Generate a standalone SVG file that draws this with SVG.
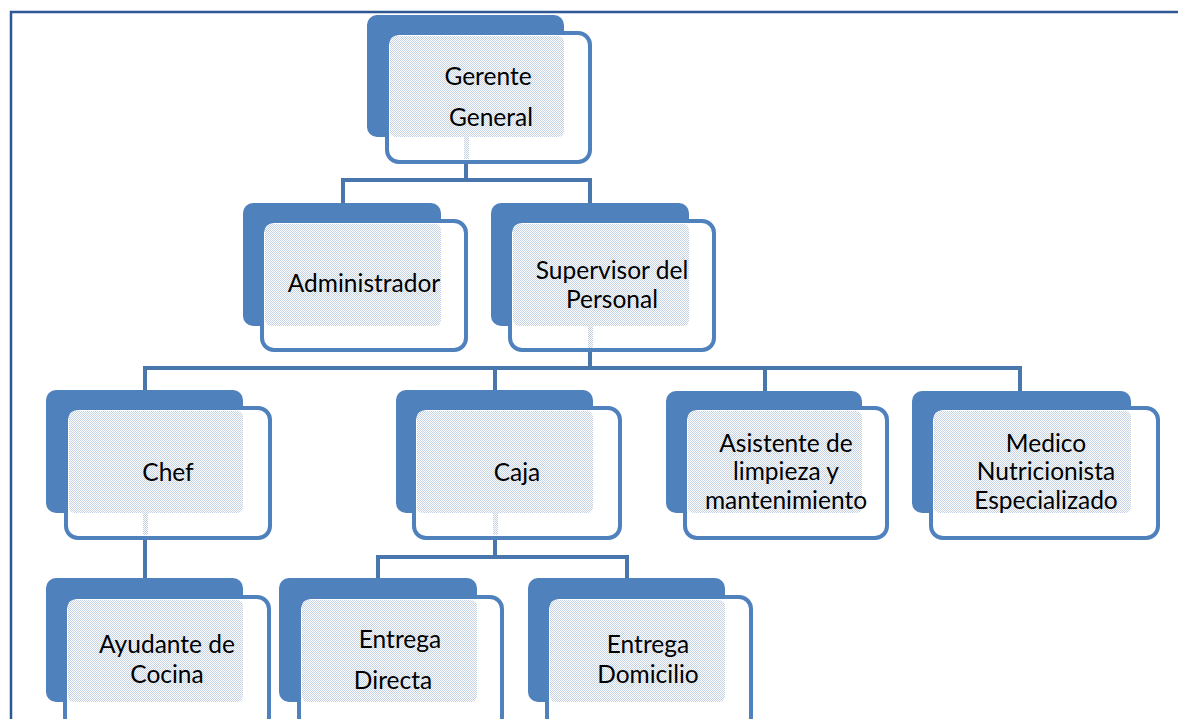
<svg xmlns="http://www.w3.org/2000/svg" width="1178" height="719" viewBox="0 0 1178 719">
<defs>
<pattern id="dots" width="2" height="2" patternUnits="userSpaceOnUse">
<rect width="2" height="2" fill="#ffffff"/>
<rect x="0" y="0" width="1" height="1" fill="#c4d1e3"/>
<rect x="1" y="1" width="1" height="1" fill="#c4d1e3"/>
</pattern>
</defs>
<style>
.back{fill:#4f81bd}
.front{fill:#ffffff;stroke:#4f81bd;stroke-width:4}
.pat{fill:url(#dots)}
.lbl{font-family:Lato,"Liberation Sans",sans-serif;font-size:24.5px;fill:#000000;text-anchor:middle}
.conn{fill:none;stroke:#4a76ae;stroke-width:4;stroke-linejoin:miter}
.border{fill:none;stroke:#2e5895;stroke-width:2.5}
</style>
<rect width="1178" height="719" fill="#ffffff"/>
<path class="border" d="M11,719 V12 H1178"/>

<g id="connectors">
<path class="conn" d="M466,164 V180 M341,180 H592 M343,180 V205 M590,180 V205"/>
<path class="conn" d="M590,352 V368 M143,368 H1022 M145,368 V392 M495,368 V392 M765,368 V392 M1020,368 V392"/>
<path class="conn" d="M145,540 V580"/>
<path class="conn" d="M495,540 V557 M376,557 H629 M378,557 V580 M627,557 V580"/>
</g>

<g id="gerente">
<rect class="back" x="367" y="15" width="197" height="122" rx="10"/>
<rect class="front" x="387" y="33" width="203" height="129" rx="12"/>
<rect class="pat" x="390" y="36" width="174" height="101" rx="6"/>
<rect class="pat" x="464" y="137" width="5" height="22"/>
<text class="lbl" x="488" y="85">Gerente</text>
<text class="lbl" x="491" y="126">General</text>
</g>

<g id="administrador">
<rect class="back" x="243" y="203" width="198" height="123" rx="10"/>
<rect class="front" x="262" y="221" width="204" height="129" rx="12"/>
<rect class="pat" x="265" y="224" width="176" height="102" rx="6"/>
<text class="lbl" x="364" y="292">Administrador</text>
</g>

<g id="supervisor">
<rect class="back" x="491" y="203" width="198" height="123" rx="10"/>
<rect class="front" x="510" y="221" width="204" height="129" rx="12"/>
<rect class="pat" x="513" y="224" width="176" height="102" rx="6"/>
<rect class="pat" x="588" y="326" width="5" height="22"/>
<text class="lbl" x="612" y="279">Supervisor del</text>
<text class="lbl" x="612" y="308">Personal</text>
</g>

<g id="chef">
<rect class="back" x="46" y="390" width="197" height="123" rx="10"/>
<rect class="front" x="66" y="408" width="204" height="130" rx="12"/>
<rect class="pat" x="69" y="411" width="174" height="102" rx="6"/>
<rect class="pat" x="143" y="513" width="5" height="22"/>
<text class="lbl" x="168" y="481">Chef</text>
</g>

<g id="caja">
<rect class="back" x="396" y="390" width="197" height="123" rx="10"/>
<rect class="front" x="414" y="408" width="206" height="130" rx="12"/>
<rect class="pat" x="417" y="411" width="176" height="102" rx="6"/>
<rect class="pat" x="493" y="513" width="5" height="22"/>
<text class="lbl" x="517" y="481">Caja</text>
</g>

<g id="asistente">
<rect class="back" x="666" y="391" width="196" height="122" rx="10"/>
<rect class="front" x="685" y="408" width="202" height="130" rx="12"/>
<rect class="pat" x="688" y="411" width="174" height="102" rx="6"/>
<text class="lbl" x="786" y="452">Asistente de</text>
<text class="lbl" x="786" y="480">limpieza y</text>
<text class="lbl" x="786" y="509">mantenimiento</text>
</g>

<g id="medico">
<rect class="back" x="912" y="391" width="219" height="122" rx="10"/>
<rect class="front" x="931" y="408" width="227" height="130" rx="12"/>
<rect class="pat" x="934" y="411" width="197" height="102" rx="6"/>
<text class="lbl" x="1046" y="452">Medico</text>
<text class="lbl" x="1046" y="480">Nutricionista</text>
<text class="lbl" x="1046" y="509">Especializado</text>
</g>

<g id="ayudante">
<rect class="back" x="46" y="578" width="197" height="124" rx="10"/>
<rect class="front" x="65" y="597" width="204" height="132" rx="12"/>
<rect class="pat" x="68" y="600" width="175" height="102" rx="6"/>
<text class="lbl" x="167" y="653">Ayudante de</text>
<text class="lbl" x="167" y="683">Cocina</text>
</g>

<g id="entrega-directa">
<rect class="back" x="279" y="578" width="198" height="124" rx="10"/>
<rect class="front" x="299" y="597" width="203" height="132" rx="12"/>
<rect class="pat" x="302" y="600" width="175" height="102" rx="6"/>
<text class="lbl" x="400" y="648">Entrega</text>
<text class="lbl" x="393" y="689">Directa</text>
</g>

<g id="entrega-domicilio">
<rect class="back" x="528" y="578" width="197" height="124" rx="10"/>
<rect class="front" x="547" y="597" width="204" height="132" rx="12"/>
<rect class="pat" x="550" y="600" width="175" height="102" rx="6"/>
<text class="lbl" x="648" y="653">Entrega</text>
<text class="lbl" x="648" y="683">Domicilio</text>
</g>
</svg>
